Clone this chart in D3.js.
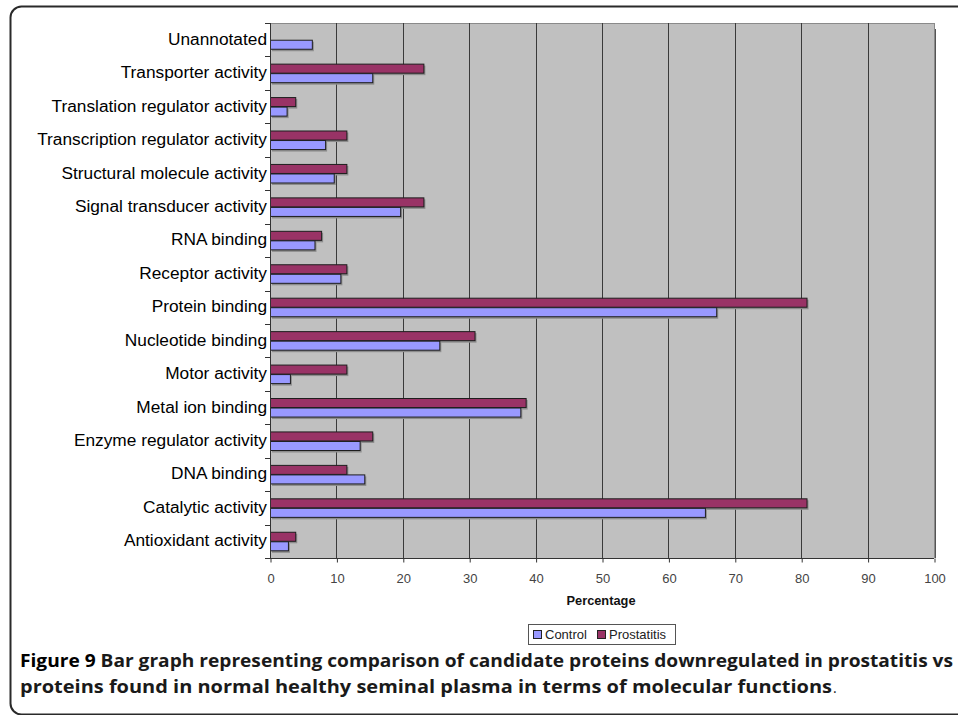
<!DOCTYPE html>
<html>
<head>
<meta charset="utf-8">
<script src="https://cdn.jsdelivr.net/npm/d3@7"></script>
<style>
  html, body { margin: 0; padding: 0; background: #fff; }
  svg { display: block; }
</style>
</head>
<body>
<script>
// ---- Data ----
const categories = [
  "Unannotated",
  "Transporter activity",
  "Translation regulator activity",
  "Transcription regulator activity",
  "Structural molecule activity",
  "Signal transducer activity",
  "RNA binding",
  "Receptor activity",
  "Protein binding",
  "Nucleotide binding",
  "Motor activity",
  "Metal ion binding",
  "Enzyme regulator activity",
  "DNA binding",
  "Catalytic activity",
  "Antioxidant activity"
];
const seriesNames = ["Control", "Prostatitis"];
const controlValues = [6.3, 15.4, 2.5, 8.3, 9.6, 19.6, 6.7, 10.6, 67.2, 25.5, 3.0, 37.7, 13.5, 14.2, 65.5, 2.7];
const prostatitisValues = [0, 23.1, 3.8, 11.5, 11.5, 23.1, 7.7, 11.5, 80.8, 30.8, 11.5, 38.5, 15.4, 11.5, 80.8, 3.8];
const xTicks = [0, 10, 20, 30, 40, 50, 60, 70, 80, 90, 100];
const xAxisTitle = "Percentage";
const captionLine1Bold = "Figure 9";
const captionLine1 = "Bar graph representing comparison of candidate proteins downregulated in prostatitis vs";
const captionLine2 = "proteins found in normal healthy seminal plasma in terms of molecular functions";

const colors = { Control: "#9999ff", Prostatitis: "#993366" };

const W = 958, H = 715;
const plot = { left: 270, right: 934, top: 23, bottom: 558 };

const svg = d3.select("body").append("svg").attr("width", W).attr("height", H);

// Frame
svg.append("rect")
  .attr("x", 10.5).attr("y", 6.5)
  .attr("width", 980).attr("height", 708)
  .attr("rx", 11).attr("ry", 11)
  .attr("fill", "none").attr("stroke", "#2a2a2a").attr("stroke-width", 2);

const x = d3.scaleLinear().domain([0, 100]).range([plot.left, plot.right]);
const y = d3.scaleBand().domain(categories).range([plot.top, plot.bottom])
  .paddingInner(0.43).paddingOuter(0.215);
const yInner = d3.scaleBand().domain(["Prostatitis", "Control"]).range([0, y.bandwidth()]);
const yStep = (plot.bottom - plot.top) / categories.length;

// Plot background
svg.append("rect")
  .attr("x", plot.left).attr("y", plot.top)
  .attr("width", plot.right - plot.left).attr("height", plot.bottom - plot.top)
  .attr("fill", "#c0c0c0");
svg.append("line")
  .attr("x1", plot.left).attr("x2", plot.right)
  .attr("y1", plot.top + 0.5).attr("y2", plot.top + 0.5)
  .attr("stroke", "#8a8a8a").attr("stroke-width", 1);
svg.append("line")
  .attr("x1", plot.right + 0.5).attr("x2", plot.right + 0.5)
  .attr("y1", plot.top).attr("y2", plot.bottom)
  .attr("stroke", "#8a8a8a").attr("stroke-width", 1);
svg.append("line")
  .attr("x1", plot.right + 1.5).attr("x2", plot.right + 1.5)
  .attr("y1", plot.top + 6).attr("y2", plot.bottom)
  .attr("stroke", "#555").attr("stroke-width", 1);

// Gridlines
svg.append("g").selectAll("line")
  .data(xTicks.filter(t => t > 0 && t < 100))
  .join("line")
  .attr("x1", d => Math.round(x(d)) + 0.5).attr("x2", d => Math.round(x(d)) + 0.5)
  .attr("y1", plot.top).attr("y2", plot.bottom)
  .attr("stroke", "#3a3a3a").attr("stroke-width", 1);

// Bars
const rows = categories.map((c, i) => ({
  cat: c,
  vals: [
    { s: "Prostatitis", v: prostatitisValues[i] },
    { s: "Control", v: controlValues[i] }
  ]
}));
const gRows = svg.append("g").selectAll("g").data(rows).join("g")
  .attr("transform", d => `translate(0,${y(d.cat)})`);
gRows.selectAll("rect.sh").data(d => d.vals.filter(v => v.v > 0)).join("rect")
  .attr("class", "sh")
  .attr("x", x(0) + 2)
  .attr("y", d => yInner(d.s) + 2)
  .attr("width", d => x(d.v) - x(0))
  .attr("height", yInner.bandwidth())
  .attr("fill", "#8c8c8c");
gRows.selectAll("rect.bar").data(d => d.vals.filter(v => v.v > 0)).join("rect")
  .attr("class", "bar")
  .attr("x", x(0) + 0.5)
  .attr("y", d => yInner(d.s) + 0.5)
  .attr("width", d => x(d.v) - x(0))
  .attr("height", yInner.bandwidth() - 0.5)
  .attr("fill", d => colors[d.s])
  .attr("stroke", "#1e1e1e").attr("stroke-width", 1);

// Y axis line & ticks
svg.append("line")
  .attr("x1", plot.left + 0.5).attr("x2", plot.left + 0.5)
  .attr("y1", plot.top).attr("y2", plot.bottom)
  .attr("stroke", "#333");
svg.append("g").selectAll("line")
  .data(d3.range(categories.length + 1))
  .join("line")
  .attr("x1", plot.left - 5).attr("x2", plot.left)
  .attr("y1", i => Math.round(plot.top + i * yStep) + 0.5)
  .attr("y2", i => Math.round(plot.top + i * yStep) + 0.5)
  .attr("stroke", "#333");
svg.append("g").selectAll("text").data(categories).join("text")
  .attr("x", plot.left - 3)
  .attr("y", d => y(d) + y.bandwidth() / 2 + 0.5)
  .attr("text-anchor", "end")
  .attr("dominant-baseline", "middle")
  .attr("font-family", "'Liberation Sans', Arial, sans-serif")
  .attr("font-size", 17.3)
  .attr("fill", "#000")
  .text(d => d);

// X axis
const xAxis = d3.axisBottom(x).tickValues(xTicks).tickSize(4).tickPadding(11).tickFormat(d3.format("d"));
const gx = svg.append("g").attr("transform", `translate(0.5,${plot.bottom + 0.5})`).call(xAxis);
gx.select(".domain").attr("stroke", "#333").attr("d", `M${plot.left - 0.5},0H${plot.right - 0.5}`);
gx.selectAll(".tick line").attr("stroke", "#333");
gx.selectAll(".tick text")
  .attr("font-family", "'Liberation Sans', Arial, sans-serif")
  .attr("font-size", 13).attr("fill", "#444");

svg.append("text")
  .attr("x", (plot.left + plot.right) / 2 - 1)
  .attr("y", 605)
  .attr("text-anchor", "middle")
  .attr("font-family", "'Liberation Sans', Arial, sans-serif")
  .attr("font-size", 12.8).attr("font-weight", "bold").attr("fill", "#111")
  .text(xAxisTitle);

// Legend
const lg = svg.append("g");
lg.append("rect").attr("x", 528.5).attr("y", 624.5).attr("width", 147).attr("height", 20)
  .attr("fill", "#fff").attr("stroke", "#555");
const legendItems = [
  { s: "Control", x: 533 },
  { s: "Prostatitis", x: 597 }
];
lg.selectAll("rect.sw").data(legendItems).join("rect").attr("class", "sw")
  .attr("x", d => d.x + 0.5).attr("y", 630.5).attr("width", 8).attr("height", 8)
  .attr("fill", d => colors[d.s]).attr("stroke", "#222");
lg.selectAll("text").data(legendItems).join("text")
  .attr("x", d => d.x + 12).attr("y", 639)
  .attr("font-family", "'Liberation Sans', Arial, sans-serif")
  .attr("font-size", 13).attr("fill", "#222")
  .text(d => d.s);

// Caption
const cap1 = svg.append("text")
  .attr("x", 20).attr("y", 667)
  .attr("font-family", "'Open Sans', 'Noto Sans', sans-serif")
  .attr("font-size", 18.5).attr("font-weight", "bold").attr("fill", "#1a1a1a")
  .attr("textLength", 933).attr("lengthAdjust", "spacingAndGlyphs");
cap1.append("tspan").attr("fill", "#000").text(captionLine1Bold + " ");
cap1.append("tspan").text(captionLine1);

svg.append("text")
  .attr("x", 20).attr("y", 693)
  .attr("font-family", "'Open Sans', 'Noto Sans', sans-serif")
  .attr("font-size", 18.5).attr("font-weight", "bold").attr("fill", "#1a1a1a")
  .attr("textLength", 812).attr("lengthAdjust", "spacingAndGlyphs")
  .text(captionLine2);
svg.append("text")
  .attr("x", 833).attr("y", 693)
  .attr("font-family", "'Open Sans', 'Noto Sans', sans-serif")
  .attr("font-size", 14).attr("fill", "#1a1a1a")
  .text(".");
</script>
</body>
</html>
